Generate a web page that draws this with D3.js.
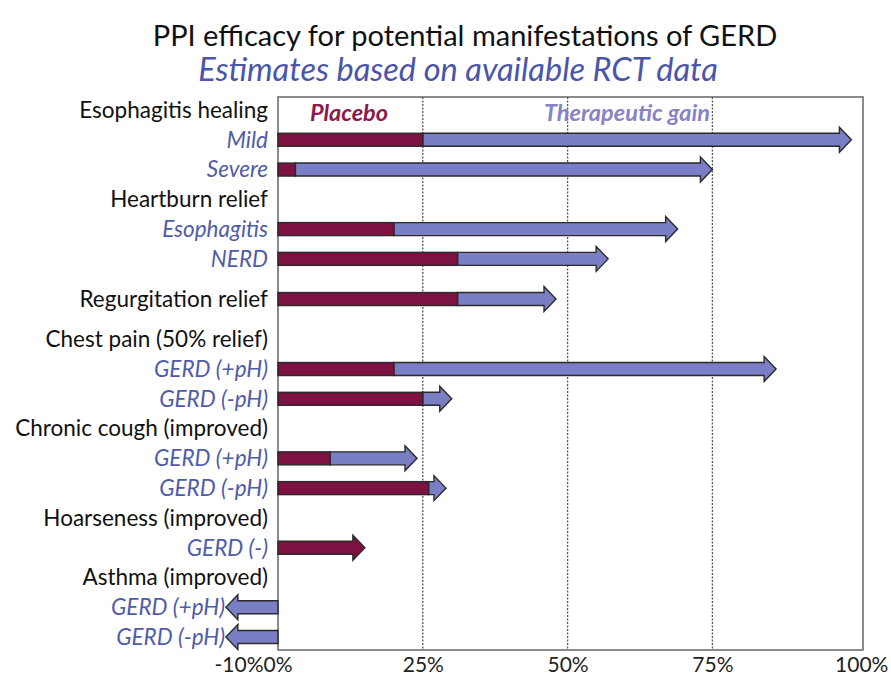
<!DOCTYPE html>
<html>
<head>
<meta charset="utf-8">
<script src="https://cdn.jsdelivr.net/npm/d3@7"></script>
<style>
  html, body { margin: 0; padding: 0; background: #fff; }
  svg { display: block; font-family: Lato, "Open Sans", sans-serif; }
</style>
</head>
<body>
<svg id="chart" width="891" height="680"></svg>
<script>
// ---- data ----
const rowLabels = [
  "Esophagitis healing", "Mild", "Severe",
  "Heartburn relief", "Esophagitis", "NERD",
  "Regurgitation relief",
  "Chest pain (50% relief)", "GERD (+pH)", "GERD (-pH)",
  "Chronic cough (improved)", "GERD (+pH)", "GERD (-pH)",
  "Hoarseness (improved)", "GERD (-)",
  "Asthma (improved)", "GERD (+pH)", "GERD (-pH)"
];
const rowKinds = [
  "group", "sub", "sub",
  "group", "sub", "sub",
  "group",
  "group", "sub", "sub",
  "group", "sub", "sub",
  "group", "sub",
  "group", "sub", "sub"
];
// placebo response (%) and PPI response (%) — arrow tip
const placeboValues = [null, 25, 3, null, 20, 31, 31, null, 20, 25, null, 9, 26, null, 15, null, 0, 0];
const ppiValues     = [null, 99, 75, null, 69, 57, 48, null, 86, 30, null, 24, 29, null, 15, null, -9, -9];
const tickValues = [-10, 0, 25, 50, 75, 100];
const gridValues = [25, 50, 75];
const titleText = "PPI efficacy for potential manifestations of GERD";
const subtitleText = "Estimates based on available RCT data";
const legendLabels = ["Placebo", "Therapeutic gain"];

// ---- layout ----
const svg = d3.select("#chart");
const plotTop = 97, plotBottom = 650;
const x = d3.scaleLinear().domain([0, 101]).range([278, 863]);

// slot positions: rows with their own bar in a group header get extra room around them
const slots = [];
let s = 0;
rowLabels.forEach((d, i) => {
  const isHeaderBar = rowKinds[i] === "group" && ppiValues[i] != null;
  if (isHeaderBar) s += 0.35;
  slots.push(s);
  s += 1;
  if (isHeaderBar) s += 0.35;
});
const y = d3.scaleLinear().domain([0, slots[slots.length - 1]]).range([110, 637]);

const colPlacebo = "#7d1242";
const colGain = "#7a7ec4";
const colStroke = "#2a2a2a";
const colLabelBlue = "#4f5cab";

// title
svg.append("text")
  .attr("x", 465).attr("y", 46)
  .attr("text-anchor", "middle")
  .attr("font-size", 29)
  .attr("fill", "#111")
  .text(titleText);
svg.append("text")
  .attr("x", 458).attr("y", 81)
  .attr("text-anchor", "middle")
  .attr("font-size", 32.5)
  .attr("font-style", "italic")
  .attr("fill", "#4a55aa")
  .text(subtitleText);

// frame
svg.append("rect")
  .attr("x", x(0)).attr("y", plotTop)
  .attr("width", x(101) - x(0)).attr("height", plotBottom - plotTop)
  .attr("fill", "none").attr("stroke", "#6e6e6e").attr("stroke-width", 1.6);

// gridlines
svg.selectAll("line.grid").data(gridValues).join("line")
  .attr("class", "grid")
  .attr("x1", d => x(d)).attr("x2", d => x(d))
  .attr("y1", plotTop).attr("y2", plotBottom)
  .attr("stroke", "#555").attr("stroke-width", 1.3)
  .attr("stroke-dasharray", "2,1.5");

// legend labels
svg.append("text")
  .attr("x", 349).attr("y", 121)
  .attr("text-anchor", "middle")
  .attr("font-size", 23.5).attr("font-weight", "bold").attr("font-style", "italic")
  .attr("fill", "#8c1a4c")
  .text(legendLabels[0]);
svg.append("text")
  .attr("x", 627).attr("y", 121)
  .attr("text-anchor", "middle")
  .attr("font-size", 23.5).attr("font-weight", "bold").attr("font-style", "italic")
  .attr("fill", "#8883c6")
  .text(legendLabels[1]);

// row labels
svg.selectAll("text.row").data(rowLabels).join("text")
  .attr("class", "row")
  .attr("x", (d, i) => (rowKinds[i] === "sub" && ppiValues[i] < 0) ? 225 : 268)
  .attr("y", (d, i) => y(slots[i]))
  .attr("dy", "0.35em")
  .attr("text-anchor", "end")
  .attr("font-size", 22.5)
  .attr("font-style", (d, i) => rowKinds[i] === "sub" ? "italic" : "normal")
  .attr("fill", (d, i) => rowKinds[i] === "sub" ? colLabelBlue : "#111")
  .text(d => d);

// arrows
const shaftH = 6.5, headH = 12.5, headL = 12;
function arrowPath(x0, x1, cy) {
  const dir = x1 >= x0 ? 1 : -1;
  const xb = x1 - dir * headL;
  return d3.line()([
    [x0, cy - shaftH], [xb, cy - shaftH], [xb, cy - headH], [x1, cy],
    [xb, cy + headH], [xb, cy + shaftH], [x0, cy + shaftH]
  ]) + "Z";
}

const rows = rowLabels.map((d, i) => ({ i, p: placeboValues[i], t: ppiValues[i] }))
  .filter(r => r.t != null);

const g = svg.append("g");
rows.forEach(r => {
  const cy = y(slots[r.i]);
  if (r.t > r.p) {
    g.append("path")
      .attr("d", arrowPath(x(r.p), x(r.t), cy))
      .attr("fill", colGain).attr("stroke", colStroke).attr("stroke-width", 1.4)
      .attr("stroke-linejoin", "miter");
    if (r.p > 0) {
      g.append("rect")
        .attr("x", x(0)).attr("y", cy - shaftH)
        .attr("width", x(r.p) - x(0)).attr("height", shaftH * 2)
        .attr("fill", colPlacebo).attr("stroke", colStroke).attr("stroke-width", 1.4);
    }
  } else if (r.t === r.p) {
    g.append("path")
      .attr("d", arrowPath(x(0), x(r.t), cy))
      .attr("fill", colPlacebo).attr("stroke", colStroke).attr("stroke-width", 1.4);
  } else {
    g.append("path")
      .attr("d", arrowPath(x(r.p), x(r.t), cy))
      .attr("fill", colGain).attr("stroke", colStroke).attr("stroke-width", 1.4);
  }
});

// x axis labels
const axis = d3.axisBottom(x).tickValues(tickValues).tickSize(0).tickPadding(7)
  .tickFormat(d => d + "%");
const ax = svg.append("g").attr("transform", `translate(0,${plotBottom})`).call(axis);
ax.select(".domain").remove();
ax.selectAll("text")
  .attr("font-size", 21)
  .attr("font-family", "Lato, 'Open Sans', sans-serif")
  .attr("fill", "#222")
  .attr("text-anchor", d => d < 0 ? "end" : (d === 0 ? "start" : "middle"))
  .attr("dx", d => d < 0 ? (x(0) - x(d) - 15) : (d === 0 ? -15 : (d === 100 ? 4 : 0)));
</script>
</body>
</html>
